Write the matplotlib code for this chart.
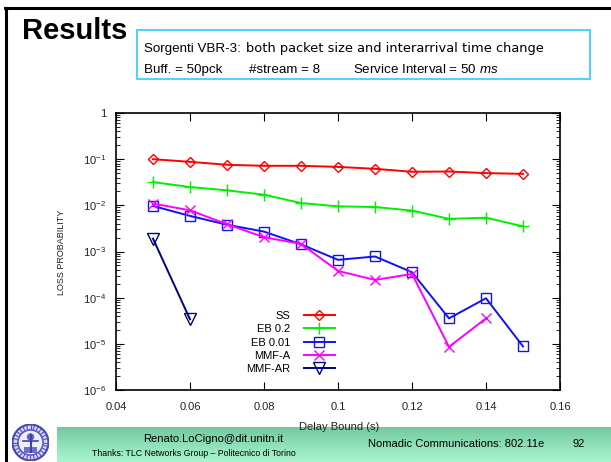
import numpy as np
import matplotlib
matplotlib.use("Agg")
import matplotlib.pyplot as plt
from matplotlib.patches import Rectangle, Circle
from matplotlib.lines import Line2D
from matplotlib.colors import LinearSegmentedColormap
from matplotlib.ticker import LogLocator, FixedLocator, FuncFormatter, NullFormatter

plt.rcParams['font.family'] = ['Liberation Sans', 'DejaVu Sans']
plt.rcParams['mathtext.fontset'] = 'custom'
plt.rcParams['mathtext.rm'] = 'Liberation Sans'
plt.rcParams['mathtext.it'] = 'Liberation Sans:italic'

# ---- data -------------------------------------------------------------
delay_ss = [0.05, 0.06, 0.07, 0.08, 0.09, 0.10, 0.11, 0.12, 0.13, 0.14, 0.15]
loss_ss = [0.100, 0.0875, 0.0755, 0.0718, 0.0718, 0.068, 0.0618, 0.0533, 0.054, 0.0499, 0.048]

delay_eb02 = [0.05, 0.06, 0.07, 0.08, 0.09, 0.10, 0.11, 0.12, 0.13, 0.14, 0.15]
loss_eb02 = [0.0319, 0.0249, 0.0211, 0.0170, 0.0112, 0.0095, 0.0092, 0.0077, 0.0051, 0.0054, 0.0035]

delay_eb001 = [0.05, 0.06, 0.07, 0.08, 0.09, 0.10, 0.11, 0.12, 0.13, 0.14, 0.15]
loss_eb001 = [0.0097, 0.0059, 0.0038, 0.0027, 0.00143, 0.00066, 0.00078, 0.000356, 3.56e-5, 9.7e-5, 8.8e-6]

delay_mmfa = [0.05, 0.06, 0.07, 0.08, 0.09, 0.10, 0.11, 0.12, 0.13, 0.14]
loss_mmfa = [0.0109, 0.0078, 0.0039, 0.00204, 0.00146, 0.00038, 0.000242, 0.000327, 8.6e-6, 3.56e-5]

delay_mmfar = [0.05, 0.06]
loss_mmfar = [0.0019, 3.4e-5]

x_ticks = [0.04, 0.06, 0.08, 0.1, 0.12, 0.14, 0.16]
x_tick_labels = ['0.04', '0.06', '0.08', '0.1', '0.12', '0.14', '0.16']

W, H = 611, 462


def fx(x):
    return x / W


def fy(y):
    return 1 - y / H


fig = plt.figure(figsize=(W / 100, H / 100), dpi=100)
fig.patch.set_facecolor('white')

# ---- slide frame ------------------------------------------------------
fig.add_artist(Line2D([fx(5), 1.0], [fy(8), fy(8)], transform=fig.transFigure,
                      color='black', lw=2.2))
fig.add_artist(Line2D([fx(5.5), fx(5.5)], [fy(8), 0.0], transform=fig.transFigure,
                      color='black', lw=2.2))

fig.text(fx(22), fy(39), 'Results', fontsize=21, fontweight='bold',
         ha='left', va='baseline')

fig.add_artist(Rectangle((fx(137), fy(79)), fx(590) - fx(137), fy(30) - fy(79),
                         transform=fig.transFigure, fill=False,
                         edgecolor='#3cd0ff', lw=1.3))
fig.text(fx(144), fy(52), 'Sorgenti VBR-3:', fontsize=9.6, ha='left', va='baseline')
fig.text(fx(246), fy(52), 'both packet size and interarrival time change',
         fontsize=9.4, family='DejaVu Sans', ha='left', va='baseline')
fig.text(fx(144), fy(73), 'Buff. = 50pck', fontsize=9.6, ha='left', va='baseline')
fig.text(fx(249), fy(73), '#stream = 8', fontsize=9.6, ha='left', va='baseline')
fig.text(fx(353), fy(73), r'Service Interval = 50 $\mathit{ms}$', fontsize=9.6,
         ha='left', va='baseline')

# ---- footer band --------------------------------------------------------
band = fig.add_axes([fx(57), 0, 1 - fx(57), 35 / H], zorder=0)
grad = np.linspace(0, 1, 64).reshape(-1, 1)
band_cmap = LinearSegmentedColormap.from_list('band', ['#74c9a0', '#a8f6d0'])
band.imshow(grad, aspect='auto', cmap=band_cmap, extent=[0, 1, 1, 0])
band.set_axis_off()

fig.text(fx(213), fy(439), 'Renato.LoCigno@dit.unitn.it', fontsize=8,
         ha='center', va='center', zorder=5)
fig.text(fx(194), fy(454), 'Thanks: TLC Networks Group \u2013 Politecnico di Torino',
         fontsize=6.3, ha='center', va='center', zorder=5)
fig.text(fx(456), fy(444), 'Nomadic Communications: 802.11e', fontsize=8,
         ha='center', va='center', zorder=5)
fig.text(fx(579), fy(444), '92', fontsize=8, ha='center', va='center', zorder=5)

# university seal
logo = fig.add_axes([fx(12), fy(461), 37 / W, 37 / H], zorder=1)
logo.set_xlim(-1, 1)
logo.set_ylim(-1, 1)
logo.set_aspect('equal')
logo.add_patch(Circle((0, 0), 0.97, facecolor='#d8d8f4', edgecolor='#4848b4', lw=1.5))
logo.add_patch(Circle((0, 0), 0.68, facecolor='#eeeefa', edgecolor='#5a5ac0', lw=1.2))
for a in np.linspace(0, 2 * np.pi, 28, endpoint=False):
    logo.plot([0.74 * np.cos(a), 0.92 * np.cos(a)], [0.74 * np.sin(a), 0.92 * np.sin(a)],
              color='#5050bc', lw=0.8)
logo.plot([0, 0], [-0.5, 0.4], color='#4040b0', lw=1.5)
logo.plot([-0.4, 0.4], [0.1, 0.1], color='#4040b0', lw=1.2)
logo.add_patch(Circle((0, 0.3), 0.2, facecolor='#6060c4', edgecolor='none'))
logo.add_patch(Rectangle((-0.35, -0.55), 0.7, 0.3, facecolor='#7070cc', edgecolor='none'))
logo.set_axis_off()

# ---- main plot ----------------------------------------------------------
ax = fig.add_axes([fx(116), fy(390), fx(560) - fx(116), fy(113) - fy(390)], zorder=2)

ax.plot(delay_ss, loss_ss, color='#ff0000', lw=1.4, marker='D', ms=5,
        mfc='none', mec='#ff0000', mew=1.0, label='SS')
ax.plot(delay_eb02, loss_eb02, color='#00f000', lw=1.4, marker='+', ms=8,
        mew=1.0, label='EB 0.2')
ax.plot(delay_eb001, loss_eb001, color='#1010ff', lw=1.4, marker='s', ms=7,
        mfc='none', mec='#1010ff', mew=1.0, label='EB 0.01')
ax.plot(delay_mmfa, loss_mmfa, color='#ff00ff', lw=1.4, marker='x', ms=7,
        mew=1.0, label='MMF-A')
ax.plot(delay_mmfar, loss_mmfar, color='#000080', lw=1.4, marker='v', ms=8,
        mfc='none', mec='#000080', mew=1.0, label='MMF-AR')

ax.set_yscale('log')
ax.set_xlim(0.04, 0.16)
ax.set_ylim(1e-6, 1)

ax.xaxis.set_major_locator(FixedLocator(x_ticks))
ax.set_xticklabels(x_tick_labels)


def y_fmt(v, pos):
    e = int(round(np.log10(v)))
    if e == 0:
        return '1'
    return r'$\mathregular{10^{%d}}$' % e


ax.yaxis.set_major_locator(LogLocator(base=10, numticks=10))
ax.yaxis.set_major_formatter(FuncFormatter(y_fmt))
ax.yaxis.set_minor_locator(LogLocator(base=10, subs=np.arange(2, 10), numticks=10))
ax.yaxis.set_minor_formatter(NullFormatter())

ax.tick_params(which='both', direction='in', top=True, right=True,
               labelsize=8, colors='black', labelcolor='#222222')
ax.tick_params(which='major', length=6, width=0.8)
ax.tick_params(which='minor', length=3, width=0.6)
ax.tick_params(axis='x', pad=9)
ax.tick_params(axis='y', pad=7)
for s in ax.spines.values():
    s.set_linewidth(1.2)

ax.legend(loc='upper right', bbox_to_anchor=(fx(335), fy(311)),
          bbox_transform=fig.transFigure, frameon=False, markerfirst=False,
          fontsize=8, handlelength=2.8, handletextpad=1.2, labelspacing=0.3,
          borderpad=0, borderaxespad=0)

fig.text(fx(62), fy(252), 'LOSS PROBABILITY', rotation=90, fontsize=6.5,
         ha='center', va='center', color='#222222')
fig.text(fx(339), fy(427), 'Delay Bound (s)', fontsize=8, ha='center',
         va='center', color='#222222', zorder=6)

fig.savefig('out.png', dpi=100)
